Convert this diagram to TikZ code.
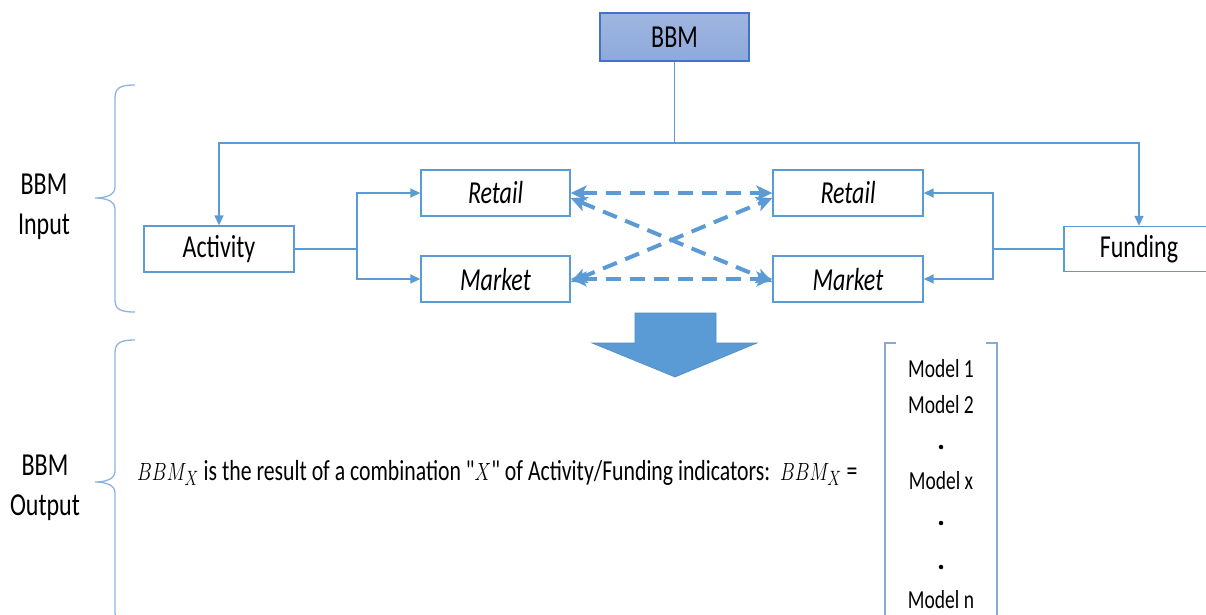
\documentclass[tikz,border=0pt]{standalone}
\usepackage{fontspec}
\usepackage{graphicx}
\setmainfont{Carlito}
\usetikzlibrary{arrows.meta}
\definecolor{ln}{HTML}{5B9BD5}
\definecolor{bx}{HTML}{5B9BD5}
\definecolor{br}{HTML}{8DB3E2}
\definecolor{bbmfill}{HTML}{8EA9DB}
\definecolor{bbmedge}{HTML}{4472C4}
\newcommand\sq[1]{\scalebox{0.75}[1]{#1}}
\tikzset{
  box/.style={draw=bx, line width=1.3pt, fill=white, minimum width=149pt, minimum height=46pt, inner sep=0pt,
    font=\fontsize{32}{38}\selectfont},
  topbox/.style={box, draw=bbmedge, top color=bbmfill!85!white, bottom color=bbmfill},
  conn/.style={draw=ln, line width=1.4pt},
  arr/.style={conn, -{Triangle[length=10pt,width=9pt]}},
  darr/.style={draw=ln, line width=4pt, dash pattern=on 15pt off 9pt,
    {Stealth[length=16pt,width=15pt,inset=4pt]}-{Stealth[length=16pt,width=15pt,inset=4pt]}},
  brace/.style={draw=br, line width=1.3pt},
  lbl/.style={font=\fontsize{32}{40}\selectfont, align=center, inner sep=0pt},
  model/.style={font=\fontsize{26}{30}\selectfont, inner sep=0pt},
  mdot/.style={circle, fill=black, inner sep=0pt, minimum size=4.5pt}
}
\begin{document}
\begin{tikzpicture}[x=1pt,y=-1pt]
\useasboundingbox (0,0) rectangle (1206,614);

% boxes
\node[topbox, minimum height=48pt] (bbm) at (674.5,37) {\sq{BBM}};
\node[box, minimum width=150pt] (act) at (219,249) {\sq{Activity}};
\node[box, minimum width=150pt, minimum height=45pt] (fund) at (1139,249) {\sq{Funding}};
\node[box] (rl) at (495.5,193) {\sq{\itshape Retail}};
\node[box] (ml) at (495.5,279) {\sq{\itshape Market}};
\node[box, minimum width=150pt] (rr) at (848,193) {\sq{\itshape Retail}};
\node[box, minimum width=150pt] (mr) at (848,279) {\sq{\itshape Market}};

% top distribution
\coordinate (jt) at (674.5,143);
\draw[conn] (bbm.south) -- (jt);
\draw[arr] (jt) -| (act.north);
\draw[arr] (jt) -| (fund.north);

% activity split
\coordinate (jl) at (357,249);
\draw[conn] (act.east) -- (jl);
\draw[arr] (jl) |- (rl.west);
\draw[arr] (jl) |- (ml.west);

% funding split
\coordinate (jr) at (993,249);
\draw[conn] (fund.west) -- (jr);
\draw[arr] (jr) |- (rr.east);
\draw[arr] (jr) |- (mr.east);

% dashed links
\draw[darr] (rl.east) -- (rr.west);
\draw[darr] (ml.east) -- (mr.west);
\draw[darr] ([yshift=-5pt]rl.east) -- ([yshift=-3pt]mr.west);
\draw[darr] ([yshift=-3pt]ml.east) -- ([yshift=-5pt]rr.west);

% big arrow
\draw[fill=ln, draw=ln!90!black, line width=0.6pt]
  (635,313) -- (716,313) -- (716,343) -- (757,343) -- (675,377) -- (592,343) -- (635,343) -- cycle;

% braces
\draw[brace] (135,85) .. controls (120,85) and (115,88) .. (115,98) -- (115,187)
  .. controls (115,195) and (106,198) .. (95,198)
  .. controls (106,198) and (115,201) .. (115,209) -- (115,300)
  .. controls (115,309) and (120,312) .. (135,312);
\draw[brace] (135,340) .. controls (120,340) and (115,343) .. (115,353) -- (115,471)
  .. controls (115,479) and (106,482) .. (95,482)
  .. controls (106,482) and (115,485) .. (115,493) -- (115,612)
  .. controls (115,621) and (120,624) .. (135,624);

% labels
\node[lbl] (lin) at (44,207) {\sq{BBM}\\\sq{Input}};
\node[lbl] (lout) at (45,488) {\sq{BBM}\\\sq{Output}};

% formula
\node[anchor=west, inner sep=0pt, font=\fontsize{29}{32}\selectfont] (form) at (137,473)
  {\sq{$BBM_X$ is the result of a combination \textquotedbl$X$\textquotedbl\ of Activity/Funding indicators:\ \ $BBM_X$ =}};

% matrix bracket
\draw[draw=br!80!gray, line width=1.2pt] (896,343) -- (885,343) -- (885,620);
\draw[draw=br!80!gray, line width=1.2pt] (986,343) -- (997,343) -- (997,620);

% models
\node[model] (m1) at (941,369) {\sq{Model 1}};
\node[model] (m2) at (941,405) {\sq{Model 2}};
\node[mdot] (d1) at (941,447) {};
\node[model] (mx) at (941,481) {\sq{Model x}};
\node[mdot] (d2) at (941,523) {};
\node[mdot] (d3) at (941,567) {};
\node[model] (mn) at (941,600) {\sq{Model n}};
\end{tikzpicture}
\end{document}
